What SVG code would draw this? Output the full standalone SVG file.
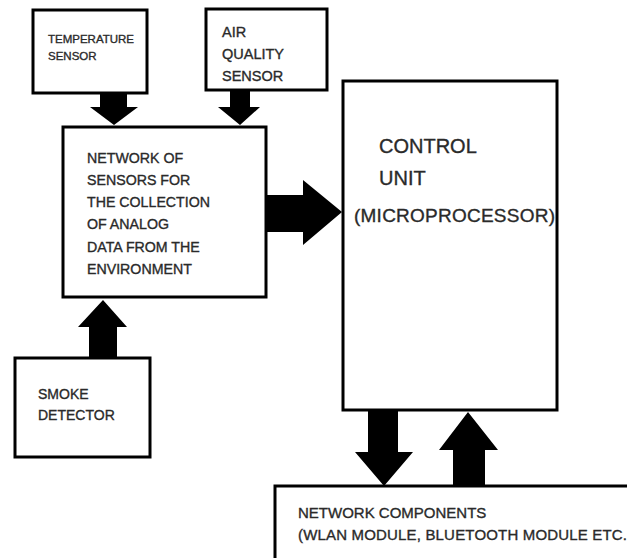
<svg xmlns="http://www.w3.org/2000/svg" width="627" height="558" viewBox="0 0 627 558">
<style>
.box{fill:#fff;stroke:#000;stroke-width:3}
.t{font-family:"Liberation Sans",Arial,sans-serif;fill:#2a2a2a;stroke:#2a2a2a;stroke-width:0.35}
.arr{fill:#000}
</style>
<rect width="627" height="558" fill="#fff"/>
<g id="temperature">
<rect class="box" x="33" y="10" width="114" height="83"/>
<text class="t" font-size="11.5"><tspan x="48" y="43">TEMPERATURE</tspan><tspan x="48" y="60">SENSOR</tspan></text>
</g>
<g id="airquality">
<rect class="box" x="206" y="9" width="121" height="81"/>
<text class="t" font-size="14.5"><tspan x="222" y="37">AIR</tspan><tspan x="222" y="59">QUALITY</tspan><tspan x="222" y="81">SENSOR</tspan></text>
</g>
<g id="network">
<rect class="box" x="63" y="127" width="203" height="170"/>
<text class="t" font-size="14.2"><tspan x="87" y="163">NETWORK OF</tspan><tspan x="87" y="185">SENSORS FOR</tspan><tspan x="87" y="207">THE COLLECTION</tspan><tspan x="87" y="229">OF ANALOG</tspan><tspan x="87" y="252">DATA FROM THE</tspan><tspan x="87" y="274">ENVIRONMENT</tspan></text>
</g>
<g id="smoke">
<rect class="box" x="15" y="358" width="135" height="99"/>
<text class="t" font-size="14"><tspan x="38" y="399">SMOKE</tspan><tspan x="38" y="420">DETECTOR</tspan></text>
</g>
<g id="control">
<rect class="box" x="343" y="81" width="214" height="329"/>
<text class="t" font-size="20"><tspan x="379" y="153">CONTROL</tspan><tspan x="379" y="185">UNIT</tspan></text>
<text class="t" font-size="19" x="354" y="222" textLength="201">(MICROPROCESSOR)</text>
</g>
<g id="netcomp">
<rect class="box" x="275" y="486" width="370" height="90"/>
<text class="t" font-size="15"><tspan x="298" y="518">NETWORK COMPONENTS</tspan></text>
<text class="t" font-size="15" x="298" y="540" textLength="329">(WLAN MODULE, BLUETOOTH MODULE ETC.</text>
</g>
<g id="connectors">
<polygon class="arr" points="100,93 127,93 127,107 138,107 114,125 90,107 100,107"/>
<polygon class="arr" points="230,90 250,90 250,107 260,107 240,125 218,107 230,107"/>
<polygon class="arr" points="266,195 303,195 303,180 342,212 303,245 303,232 266,232"/>
<polygon class="arr" points="89,358 117,358 117,327 127,327 103,300 78,327 89,327"/>
<polygon class="arr" points="368,411 398,411 398,452 413,452 384,486 355,452 368,452"/>
<polygon class="arr" points="453,485 485,485 485,450 498,450 468,412 439,450 453,450"/>
</g>
</svg>
